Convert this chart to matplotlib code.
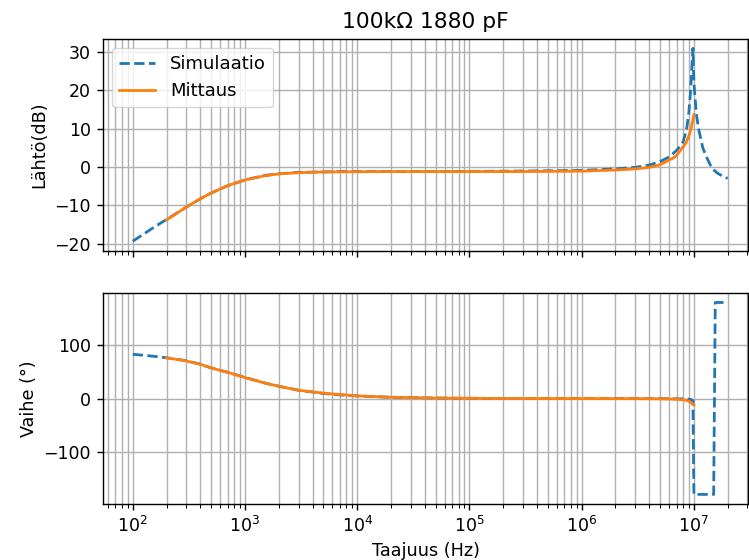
import matplotlib
matplotlib.use("Agg")
import matplotlib.pyplot as plt

# Simulation (Simulaatio)
sim_freq = [100, 150, 200, 300, 400, 500, 700, 1000, 1500, 2000, 3000, 5000, 7000,
            1e4, 2e4, 5e4, 1e5, 2e5, 5e5, 1e6, 2e6, 3e6, 4e6, 5e6, 6e6, 7e6, 8e6,
            8.6e6, 9.0e6, 9.3e6, 9.6e6, 9.8e6, 1.0e7, 1.05e7, 1.1e7, 1.2e7, 1.3e7,
            1.45e7, 1.5e7, 1.55e7, 1.6e7, 1.8e7, 2e7]
sim_db = [-19.4, -16.0, -13.7, -10.5, -8.3, -6.8, -4.9, -3.4, -2.2, -1.8, -1.4, -1.3, -1.2,
          -1.2, -1.2, -1.2, -1.15, -1.1, -1.0, -0.9, -0.5, -0.1, 0.5, 1.4, 2.6, 4.3, 6.5,
          9.8, 14.0, 19.0, 26.0, 31.0, 22.0, 14.0, 10.0, 5.0, 2.5,
          -0.4, -0.8, -1.1, -1.5, -2.4, -3.0]
sim_phase = [82.5, 79, 76, 70.5, 64, 57, 49, 39.5, 29, 23, 15.5, 9.5, 6.8,
             4.8, 2.4, 1.0, 0.5, 0.2, 0.0, 0.0, 0.0, -0.1, -0.1, -0.2, -0.3, -0.4, -0.5,
             -0.8, -1.0, -1.5, -2.5, -4.0, -178.5, -178.5, -178.5, -178.5, -178.5,
             -178.5, -178.5, 179, 179, 179, 179]

# Measurement (Mittaus)
mit_freq = [200, 300, 400, 500, 700, 1000, 1500, 2000, 3000, 5000, 1e4, 2e4, 5e4,
            1e5, 2e5, 5e5, 1e6, 2e6, 3e6, 4e6, 5e6, 6e6, 6.6e6, 7e6, 8e6, 8.5e6,
            9e6, 9.5e6, 1e7]
mit_db = [-13.8, -10.5, -8.3, -6.8, -4.9, -3.4, -2.3, -1.8, -1.5, -1.3, -1.25, -1.2, -1.2,
          -1.2, -1.2, -1.15, -1.1, -0.8, -0.5, -0.1, 0.6, 1.8, 2.4, 3.0, 5.2, 6.3,
          8.0, 10.3, 13.7]
mit_phase = [76, 70, 64, 57, 49, 39, 29, 23, 15.5, 10, 5, 2.5, 1.0,
             0.5, 0.2, 0.0, 0.0, -0.1, -0.2, -0.3, -0.5, -0.8, -1.0, -1.3, -2.0, -3.0,
             -5.0, -8.0, -12.0]

title = "100kΩ 1880 pF"

s = 1.27
plt.rcParams.update({
    'axes.linewidth': 0.8 * s,
    'grid.linewidth': 0.8 * s,
    'xtick.major.size': 3.5 * s, 'ytick.major.size': 3.5 * s,
    'xtick.minor.size': 2.0 * s, 'ytick.minor.size': 2.0 * s,
    'xtick.major.width': 0.8 * s, 'ytick.major.width': 0.8 * s,
    'xtick.minor.width': 0.6 * s, 'ytick.minor.width': 0.6 * s,
    'xtick.major.pad': 3.5 * s, 'ytick.major.pad': 3.5 * s,
    'xtick.labelsize': 12.5, 'ytick.labelsize': 12.5,
    'axes.labelsize': 12.7,
    'legend.fontsize': 13,
})

fig = plt.figure(figsize=(7.49, 5.60), dpi=100)
ax1 = fig.add_axes([0.1375, 0.552, 0.8615, 0.379])
ax2 = fig.add_axes([0.1375, 0.100, 0.8615, 0.377], sharex=ax1)

lw = 2.0
ax1.plot(sim_freq, sim_db, '--', color='#1f77b4', lw=lw, label='Simulaatio')
ax1.plot(mit_freq, mit_db, '-', color='#ff7f0e', lw=lw, label='Mittaus')
ax1.set_xscale('log')
ax1.set_title(title, fontsize=15.7, pad=6 * s)
ax1.set_ylabel('Lähtö(dB)')
ax1.grid(True, which='both')
ax1.legend(loc='upper left')
ax1.tick_params(labelbottom=False)

ax2.plot(sim_freq, sim_phase, '--', color='#1f77b4', lw=lw)
ax2.plot(mit_freq, mit_phase, '-', color='#ff7f0e', lw=lw)
ax2.set_xscale('log')
ax2.set_ylabel('Vaihe (°)')
ax2.set_xlabel('Taajuus (Hz)')
ax2.grid(True, which='both')

ax1.set_xlim(54.3, 3.05e7)

fig.savefig('out.png', dpi=100)
